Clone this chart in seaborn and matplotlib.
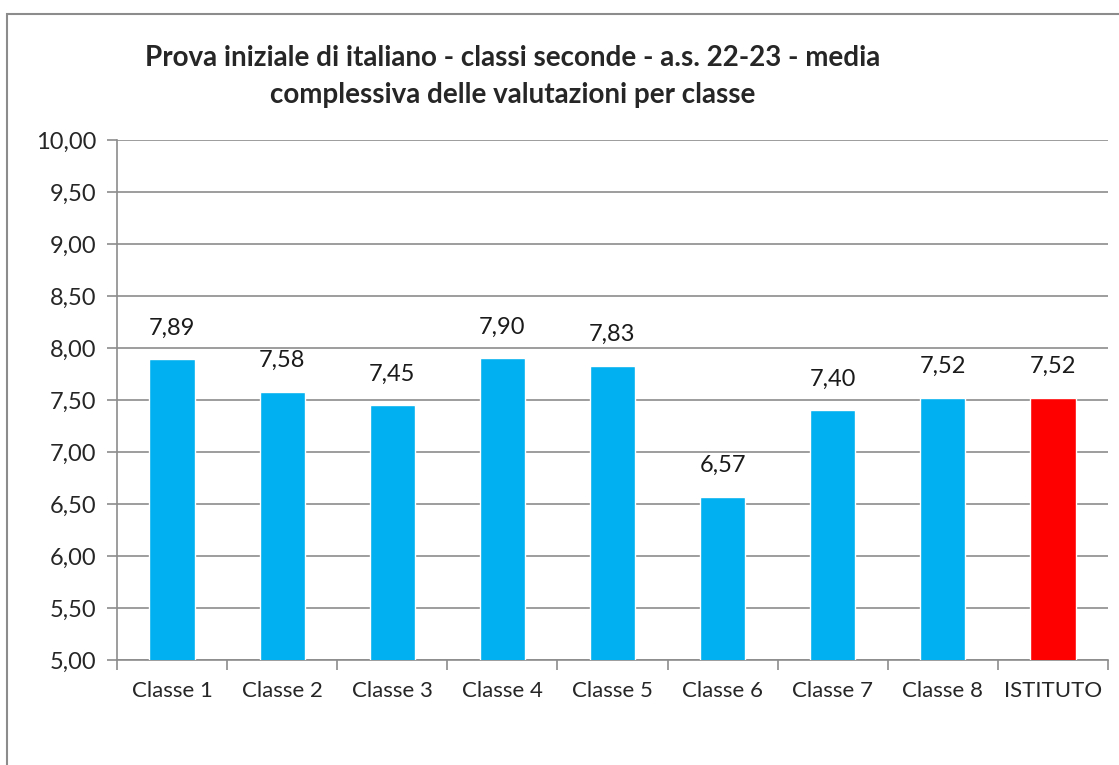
import matplotlib.pyplot as plt
import seaborn as sns
import pandas as pd
from matplotlib.patches import Rectangle

categories = ["Classe 1", "Classe 2", "Classe 3", "Classe 4", "Classe 5",
              "Classe 6", "Classe 7", "Classe 8", "ISTITUTO"]
media = [7.89, 7.58, 7.45, 7.90, 7.83, 6.57, 7.40, 7.52, 7.52]
bar_colors = ["#00B0F0"] * 8 + ["#FF0000"]
y_ticks = [5.0, 5.5, 6.0, 6.5, 7.0, 7.5, 8.0, 8.5, 9.0, 9.5, 10.0]

sns.set_style("white")
plt.rcParams["font.family"] = ["Lato", "DejaVu Sans"]

df = pd.DataFrame({"classe": categories, "media": media})

fig = plt.figure(figsize=(11.19, 7.65), dpi=100)
ax = fig.add_axes([117 / 1119, 1 - 660 / 765, (1108 - 117) / 1119, (660 - 140) / 765])

# bordo esterno del grafico (stile Excel)
fig.patches.append(Rectangle((7 / 1119, -0.05), 1.2, 1 - 14 / 765 + 0.05,
                             transform=fig.transFigure, fill=False,
                             edgecolor="#8c8c8c", linewidth=1.5))

sns.barplot(data=df, x="classe", y="media", hue="classe", palette=bar_colors,
            legend=False, width=0.41, saturation=1, ax=ax, zorder=3)

ax.set_ylim(5, 10)
ax.set_yticks(y_ticks)
ax.set_yticklabels([f"{v:.2f}".replace(".", ",") for v in y_ticks], fontsize=17)
ax.grid(True, axis="y", color="#8c8c8c", linewidth=1.2, zorder=0)
ax.set_axisbelow(True)

for i, v in enumerate(media):
    ax.text(i, v + 0.2, f"{v:.2f}".replace(".", ","), ha="center",
            va="bottom", fontsize=17, color="#1a1a1a")

for side in ["top", "right"]:
    ax.spines[side].set_visible(False)
for side in ["left", "bottom"]:
    ax.spines[side].set_color("#8c8c8c")
    ax.spines[side].set_linewidth(1.2)

# tacche dell'asse x tra le categorie
ax.set_xticks(range(len(categories)))
ax.set_xticklabels(categories, fontsize=16)
ax.tick_params(axis="x", length=0, pad=15)
ax.set_xticks([i - 0.5 for i in range(len(categories) + 1)], minor=True)
ax.tick_params(axis="x", which="minor", length=7, color="#8c8c8c", width=1.2,
               direction="out", bottom=True)
ax.tick_params(axis="y", length=7, color="#8c8c8c", width=1.2,
               direction="out", left=True, pad=8)
ax.set_xlim(-0.5, len(categories) - 0.5)
ax.set_xlabel("")
ax.set_ylabel("")

fig.text(0.458, 0.9,
         "Prova iniziale di italiano - classi seconde - a.s. 22-23 - media\n"
         "complessiva delle valutazioni per classe",
         ha="center", va="center", fontsize=20, fontweight="bold",
         linespacing=1.5)

fig.savefig("out.png", dpi=100)
plt.close(fig)
